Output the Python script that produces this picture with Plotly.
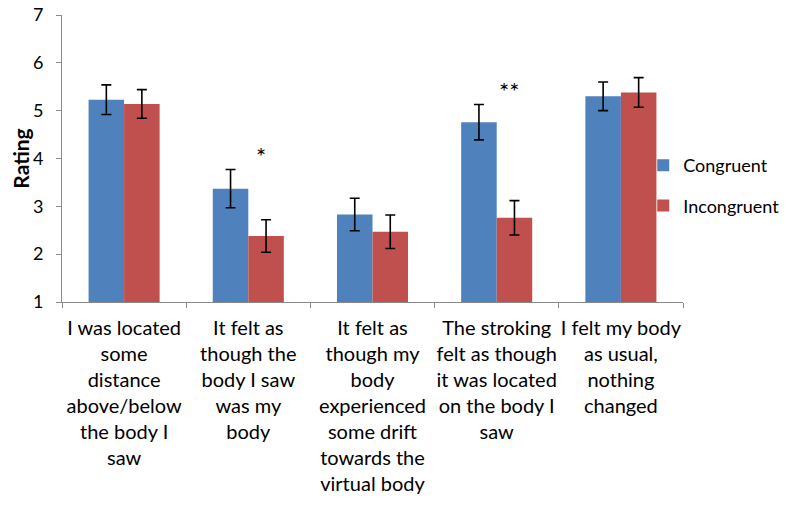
import plotly.graph_objects as go

categories = [
    "I was located<br>some<br>distance<br>above/below<br>the body I<br>saw",
    "It felt as<br>though the<br>body I saw<br>was my<br>body",
    "It felt as<br>though my<br>body<br>experienced<br>some drift<br>towards the<br>virtual body",
    "The stroking<br>felt as though<br>it was located<br>on the body I<br>saw",
    "I felt my body<br>as usual,<br>nothing<br>changed",
]
congruent = [5.23, 3.37, 2.83, 4.76, 5.30]
congruent_err = [0.31, 0.40, 0.34, 0.37, 0.30]
incongruent = [5.14, 2.38, 2.47, 2.76, 5.38]
incongruent_err = [0.30, 0.34, 0.35, 0.36, 0.31]
sig_marks = ["", "*", "", "**", ""]
sig_y = [None, 4.18, None, 5.55, None]
y_ticks = [1, 2, 3, 4, 5, 6, 7]

FONT = "Lato, 'Open Sans', sans-serif"
AXIS_COLOR = "#898989"

fig = go.Figure()
fig.add_trace(go.Bar(
    name="Congruent", x=categories, y=congruent,
    marker=dict(color="#4F81BD", line=dict(width=0)),
    error_y=dict(type="data", array=congruent_err, color="black", thickness=1.6, width=5),
    legendgroup="c",
))
fig.add_trace(go.Bar(
    name="Incongruent", x=categories, y=incongruent,
    marker=dict(color="#C0504D", line=dict(width=0)),
    error_y=dict(type="data", array=incongruent_err, color="black", thickness=1.6, width=5),
    legendgroup="i",
))

for i, (m, yv) in enumerate(zip(sig_marks, sig_y)):
    if m:
        fig.add_annotation(x=i + 0.1, y=yv, text=m, showarrow=False,
                           xref="x", yref="y", yanchor="middle",
                           font=dict(family=FONT, size=24, color="black"), yshift=-6)

# page body has an 8px margin: figure drawn 8px right/down
fig.update_layout(
    width=789, height=497,
    margin=dict(l=54, r=114, t=7, b=203, autoexpand=False),
    paper_bgcolor="white", plot_bgcolor="white",
    barmode="group", bargap=0.428, bargroupgap=0,
    font=dict(family=FONT, size=20, color="black"),
    showlegend=True,
    legend=dict(x=0.936, xanchor="left", y=0.54, yanchor="top",
                font=dict(family=FONT, size=18, color="black"),
                traceorder="grouped", tracegroupgap=14,
                bgcolor="rgba(0,0,0,0)"),
)
fig.update_xaxes(
    type="category", range=[-0.5, 4.5],
    showline=True, linecolor=AXIS_COLOR, linewidth=1,
    ticks="outside", tickson="boundaries", ticklen=5, tickcolor=AXIS_COLOR,
    showgrid=False, tickangle=0, ticklabelstandoff=8,
    tickfont=dict(family=FONT, size=20, color="black"),
)
fig.update_yaxes(
    range=[1, 7.0001], tickmode="array", tickvals=y_ticks,
    showline=True, linecolor=AXIS_COLOR, linewidth=1,
    ticks="outside", ticklen=5, tickcolor=AXIS_COLOR,
    showgrid=False, zeroline=False, ticklabelstandoff=9,
    ticklabeloverflow="allow",
    tickfont=dict(family=FONT, size=18, color="black"),
    title=dict(text="<b>Rating</b>", font=dict(family=FONT, size=21, color="black"), standoff=21),
)

fig.write_html("out.html")
